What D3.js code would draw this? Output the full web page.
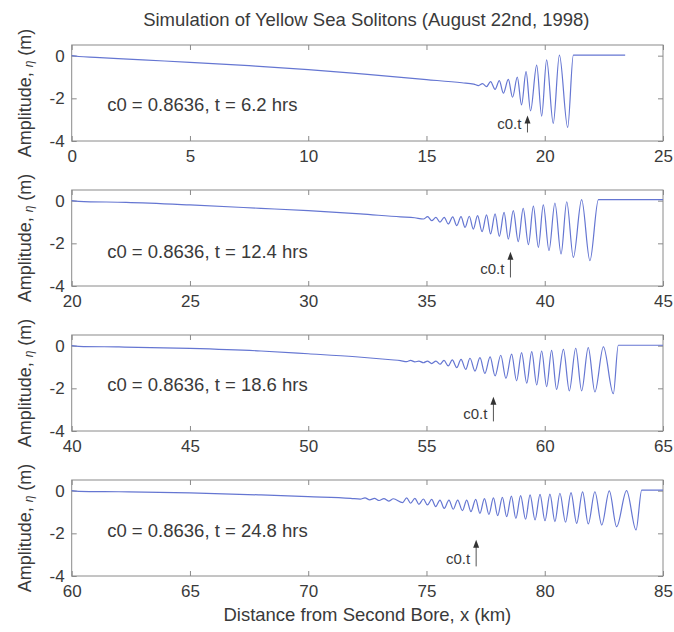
<!DOCTYPE html>
<html><head><meta charset="utf-8">
<script src="https://cdn.jsdelivr.net/npm/d3@7"></script>
<style>
body{margin:0;background:#fff;}
svg text{font-family:"Liberation Sans",Arial,Helvetica,sans-serif;fill:#3a3a3a;}
</style></head><body>
<svg id="chart" width="674" height="632"></svg>
<script>
// ---------------- data ----------------
const titleText = "Simulation of Yellow Sea Solitons (August 22nd, 1998)";
const xLabel = "Distance from Second Bore, x (km)";
const c0 = 0.8636;
const timesHrs = [6.2, 12.4, 18.6, 24.8];
const xDomains = [[0, 25], [20, 45], [40, 65], [60, 85]];
const xTickLabels = [[0, 5, 10, 15, 20, 25], [20, 25, 30, 35, 40, 45], [40, 45, 50, 55, 60, 65], [60, 65, 70, 75, 80, 85]];
const yTickLabels = [0, -2, -4];
const arrowX = [19.27, 38.55, 57.83, 77.10];
const arrowTop = [-2.8, -2.4, -2.4, -2.3];
const arrowBottom = [-3.6, -3.6, -3.55, -3.55];
const labelY = [-2.6, -2.7, -2.12, -2.15];

// panel 1 (t = 6.2 hrs): [x km, eta m]
const wave1 = [[0,0],[0.3,-0.04],[1,-0.08],[3,-0.2],[5,-0.31],[7.5,-0.47],[10,-0.65],[12.5,-0.88],[15,-1.12],[16.5,-1.27],
 [17.0,-1.33],[17.2,-1.40],[17.37,-1.31],[17.54,-1.45],[17.71,-1.22],[17.9,-1.58],[18.08,-1.17],[18.25,-1.76],[18.46,-1.11],
 [18.64,-1.95],[18.84,-1.01],[19.02,-2.31],[19.21,-0.75],[19.40,-2.59],[19.66,-0.44],[19.87,-2.83],[20.08,-0.20],
 [20.36,-3.17],[20.62,0.03],[20.97,-3.36],[21.21,0.03],[23.4,0.03]];
// panel 2 (t = 12.4 hrs)
const wave2 = [[20,0],[20.3,-0.03],[22.3,-0.08],[25,-0.2],[28,-0.36],[30,-0.47],[32.2,-0.62],[33.9,-0.76],[34.5,-0.8],
 [34.87,-0.86],[35.05,-0.75],[35.22,-0.94],[35.4,-0.78],[35.57,-1.01],[35.75,-0.78],[35.92,-1.09],[36.11,-0.76],[36.28,-1.17],
 [36.46,-0.75],[36.63,-1.25],[36.81,-0.73],[36.98,-1.33],[37.16,-0.70],[37.35,-1.45],[37.54,-0.67],[37.71,-1.56],[37.90,-0.62],
 [38.08,-1.67],[38.28,-0.55],[38.46,-1.80],[38.67,-0.47],[38.88,-1.92],[39.09,-0.36],[39.31,-2.06],[39.52,-0.26],[39.73,-2.19],
 [39.94,-0.20],[40.18,-2.34],[40.43,-0.11],[40.69,-2.50],[40.93,-0.05],[41.21,-2.66],[41.56,0.05],[41.91,-2.81],[42.27,0.05],[45,0.05]];
// panel 3 (t = 18.6 hrs)
const wave3 = [[40,0],[40.3,-0.03],[42,-0.06],[45,-0.13],[48,-0.25],[50,-0.38],[52,-0.52],[53.5,-0.66],[53.9,-0.7],
 [54.16,-0.75],[54.33,-0.69],[54.51,-0.76],[54.68,-0.72],[54.87,-0.80],[55.04,-0.72],[55.22,-0.84],[55.40,-0.72],[55.57,-0.87],
 [55.74,-0.69],[55.92,-0.95],[56.09,-0.67],[56.28,-1.03],[56.46,-0.64],[56.66,-1.11],[56.84,-0.59],[57.05,-1.19],[57.26,-0.56],
 [57.47,-1.30],[57.69,-0.53],[57.90,-1.42],[58.14,-0.45],[58.36,-1.53],[58.60,-0.40],[58.81,-1.65],[59.02,-0.33],[59.24,-1.76],
 [59.45,-0.28],[59.66,-1.84],[59.87,-0.25],[60.08,-1.92],[60.29,-0.22],[60.50,-2.05],[60.79,-0.17],[61.04,-2.12],[61.31,-0.12],
 [61.56,-2.12],[61.84,-0.09],[62.12,-2.17],[62.48,-0.06],[62.90,-2.25],[63.11,0.02],[65,0.02]];
// panel 4 (t = 24.8 hrs)
const wave4 = [[60,0],[60.3,-0.03],[62,-0.05],[65,-0.1],[68,-0.2],[70,-0.28],[71.8,-0.36],
 [72.2,-0.40],[72.4,-0.34],[72.6,-0.43],[72.8,-0.36],[73.0,-0.46],[73.2,-0.37],[73.4,-0.49],[73.6,-0.38],
 [73.99,-0.56],[74.16,-0.34],[74.33,-0.59],[74.51,-0.36],[74.68,-0.64],[74.87,-0.39],[75.04,-0.67],[75.22,-0.41],[75.39,-0.75],
 [75.57,-0.44],[75.75,-0.83],[75.95,-0.44],[76.13,-0.87],[76.32,-0.44],[76.52,-0.94],[76.70,-0.44],[76.88,-0.98],[77.08,-0.41],
 [77.26,-1.06],[77.45,-0.37],[77.64,-1.11],[77.83,-0.34],[78.01,-1.17],[78.21,-0.31],[78.39,-1.22],[78.59,-0.26],[78.78,-1.30],
 [78.98,-0.23],[79.19,-1.34],[79.38,-0.20],[79.59,-1.37],[79.80,-0.17],[80.01,-1.41],[80.22,-0.16],[80.43,-1.45],[80.64,-0.12],
 [80.88,-1.48],[81.11,-0.09],[81.35,-1.53],[81.60,-0.06],[81.84,-1.56],[82.12,-0.05],[82.41,-1.61],[82.73,-0.01],[83.04,-1.69],
 [83.46,0.0],[83.86,-1.84],[84.10,0.03],[85,0.03]];
const waves = [wave1, wave2, wave3, wave4];

// ---------------- layout ----------------
const left = 71.7, plotW = 591.3, plotH = 96, top0 = 45, step = 145;
const lineColor = "#6576d2";
const axisColor = "#8a8a8a";
const svg = d3.select("#chart");

svg.append("text").attr("x", left + plotW/2 - 1).attr("y", 26).attr("text-anchor", "middle")
  .style("font-size", "18.5px").text(titleText);
svg.append("text").attr("x", left + plotW/2).attr("y", 621).attr("text-anchor", "middle")
  .style("font-size", "18.5px").text(xLabel);

waves.forEach((wave, k) => {
  const top = top0 + step * k;
  const x = d3.scaleLinear().domain(xDomains[k]).range([left, left + plotW]);
  const y = d3.scaleLinear().domain([-4, 0.5]).range([top + plotH, top]);
  const g = svg.append("g");

  // frame
  g.append("rect").attr("x", left).attr("y", top).attr("width", plotW).attr("height", plotH)
    .attr("fill", "none").attr("stroke", axisColor).attr("stroke-width", 1);

  const ax = (gen, tr) => {
    const a = g.append("g").attr("transform", tr).call(gen);
    a.select(".domain").remove();
    a.selectAll("line").attr("stroke", axisColor);
    a.selectAll("text").style("font-size", "17px").attr("fill", "#3a3a3a").style("font-family", "Liberation Sans, Arial, sans-serif");
    return a;
  };
  ax(d3.axisBottom(x).tickValues(xTickLabels[k]).tickSize(-5).tickPadding(9).tickFormat(d => String(d)), `translate(0,${top + plotH})`);
  ax(d3.axisTop(x).tickValues(xTickLabels[k]).tickSize(-5).tickFormat(""), `translate(0,${top})`);
  ax(d3.axisLeft(y).tickValues(yTickLabels).tickSize(-5).tickPadding(7).tickFormat(d => String(d)), `translate(${left},0)`);
  ax(d3.axisRight(y).tickValues(yTickLabels).tickSize(-5).tickFormat(""), `translate(${left + plotW},0)`);

  // curve
  const line = d3.line().x(d => x(d[0])).y(d => y(d[1])).curve(d3.curveMonotoneX);
  g.append("path").datum(wave).attr("d", line).attr("fill", "none")
    .attr("stroke", lineColor).attr("stroke-width", 1.2).attr("stroke-linejoin", "round");

  // annotation
  g.append("text").attr("x", x(xDomains[k][0] + 1.5)).attr("y", y(labelY[k]))
    .style("font-size", "18.5px").text(`c0 = ${c0}, t = ${timesHrs[k]} hrs`);

  // arrow c0.t
  const axp = x(arrowX[k]), yt = y(arrowTop[k]);
  g.append("line").attr("x1", axp).attr("x2", axp)
    .attr("y1", y(arrowBottom[k])).attr("y2", yt + 6)
    .attr("stroke", "#555").attr("stroke-width", 1);
  g.append("path").attr("d", `M${axp - 3},${yt + 8} L${axp},${yt} L${axp + 3},${yt + 8} Z`).attr("fill", "#333");
  g.append("text").attr("x", axp - 6).attr("y", y(-3.45)).attr("text-anchor", "end")
    .style("font-size", "15px").text("c0.t");

  // y label
  const yl = svg.append("text").attr("transform", `translate(31,${top + plotH/2}) rotate(-90)`)
    .attr("text-anchor", "middle").style("font-size", "18px");
  yl.append("tspan").text("Amplitude, ");
  yl.append("tspan").style("font-style", "italic").style("font-size", "12px").attr("dy", 2).text("η");
  yl.append("tspan").attr("dy", -2).text(" (m)");
});
</script>
</body></html>
